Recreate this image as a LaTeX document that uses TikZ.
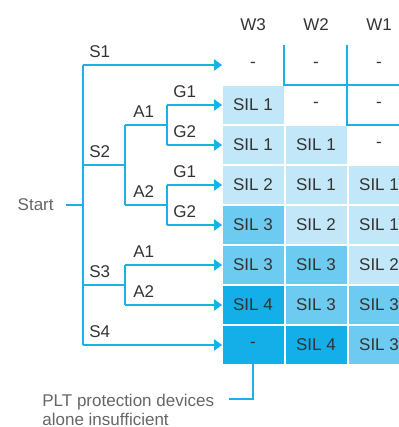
\documentclass[tikz,border=0pt]{standalone}
\usepackage{fontspec}
\setmainfont{Liberation Sans}
\usetikzlibrary{arrows.meta, positioning, calc}
\definecolor{linea}{HTML}{1AB0E8}
\definecolor{sila}{HTML}{C2E7F9}
\definecolor{silb}{HTML}{6DCBF1}
\definecolor{silc}{HTML}{14AEE8}
\definecolor{testo}{HTML}{333333}
\definecolor{grigio}{HTML}{666666}
\tikzset{
  >={Triangle[length=4pt,width=5.5pt]},
  % Celle della matrice
  cella/.style={minimum width=30.5pt,minimum height=19pt,inner sep=0,text=testo},
  cella 0/.style={cella},
  cella 1/.style={cella,fill=sila},
  cella 2/.style={cella,fill=silb},
  cella 3/.style={cella,fill=silc},
  % Rami dell'albero
  ramo/.style={linea,line width=1pt},
  freccia/.style={ramo,->},
  etichetta/.style={text=testo,inner sep=0}
}

\begin{document}
\begin{tikzpicture}[x=0.5pt, y=-0.5pt, font=\fontsize{8.5}{9.5}\selectfont]
    \clip (0,0) rectangle (399,427);
    % Intestazioni
    \foreach \c/\w in {1/W3,2/W2,3/W1}
      \node[text=testo] (w\c) at (190+63*\c, 25) {\w};
    % Matrice SIL
    \foreach \r/\c/\t/\l in {1/1/-/0, 1/2/-/0, 1/3/-/0,
        2/1/SIL 1/1, 2/2/-/0, 2/3/-/0,
        3/1/SIL 1/1, 3/2/SIL 1/1, 3/3/-/0,
        4/1/SIL 2/1, 4/2/SIL 1/1, 4/3/SIL 1/1,
        5/1/SIL 3/2, 5/2/SIL 2/1, 5/3/SIL 1/1,
        6/1/SIL 3/2, 6/2/SIL 3/2, 6/3/SIL 2/1,
        7/1/SIL 4/3, 7/2/SIL 3/2, 7/3/SIL 3/2,
        8/1/-/3, 8/2/SIL 4/3, 8/3/SIL 3/2}
      \node[cella \l] (c\r\c) at (190+63*\c, 25+40*\r) {\t};
    % Confine
    \draw[ramo] (284,45) -- (284,85) -- (399,85);
    \draw[ramo] (347,45) -- (347,125) -- (399,125);
    % Punti dell'albero
    \coordinate (s0) at (83,205);
    \foreach \n/\y in {1/65,2/165,3/285,4/345}
      \coordinate (s\n) at (83,\y);
    \coordinate (a2) at (125,165);
    \coordinate (a21) at (125,125);
    \coordinate (a22) at (125,205);
    \coordinate (a3) at (125,285);
    \coordinate (a31) at (125,265);
    \coordinate (a32) at (125,305);
    \coordinate (g21) at (167,125);
    \coordinate (g211) at (167,105);
    \coordinate (g212) at (167,145);
    \coordinate (g22) at (167,205);
    \coordinate (g221) at (167,185);
    \coordinate (g222) at (167,225);
    % Albero
    \node[text=grigio, anchor=east, inner sep=3pt] (start) at (60,205) {Start};
    \draw[ramo, shorten <=3pt] (start) -- (s0);
    \draw[ramo] (s1) -- (s4);
    \draw[freccia] (s1) -- (c11.west);
    \draw[ramo] (s2) -- (a2);
    \draw[ramo] (a21) -- (a22);
    \draw[ramo] (a21) -- (g21);
    \draw[ramo] (a22) -- (g22);
    \draw[ramo] (g211) -- (g212);
    \draw[ramo] (g221) -- (g222);
    \draw[freccia] (g211) -- (c21.west);
    \draw[freccia] (g212) -- (c31.west);
    \draw[freccia] (g221) -- (c41.west);
    \draw[freccia] (g222) -- (c51.west);
    \draw[ramo] (s3) -- (a3);
    \draw[ramo] (a31) -- (a32);
    \draw[freccia] (a31) -- (c61.west);
    \draw[freccia] (a32) -- (c71.west);
    \draw[freccia] (s4) -- (c81.west);
    % Etichette
    \foreach \p/\t in {s1/S1,s2/S2,s3/S3,s4/S4,g211/G1,g212/G2,g221/G1,g222/G2}
      \node[etichetta, above right=3.5pt and 3pt of \p] (l\p) {\t};
    \foreach \p/\t in {a21/A1,a22/A2,a31/A1,a32/A2}
      \node[etichetta, above right=3.5pt and 4pt of \p] (l\p) {\t};
    % Nota
    \node[text=grigio, align=left, anchor=west, inner sep=0] (nota) at (42,410)
      {PLT protection devices\\alone insufficient};
    \coordinate (nota-fine) at (229,399);
    \draw[ramo] (c81.south) |- (nota-fine);
\end{tikzpicture}
\end{document}
